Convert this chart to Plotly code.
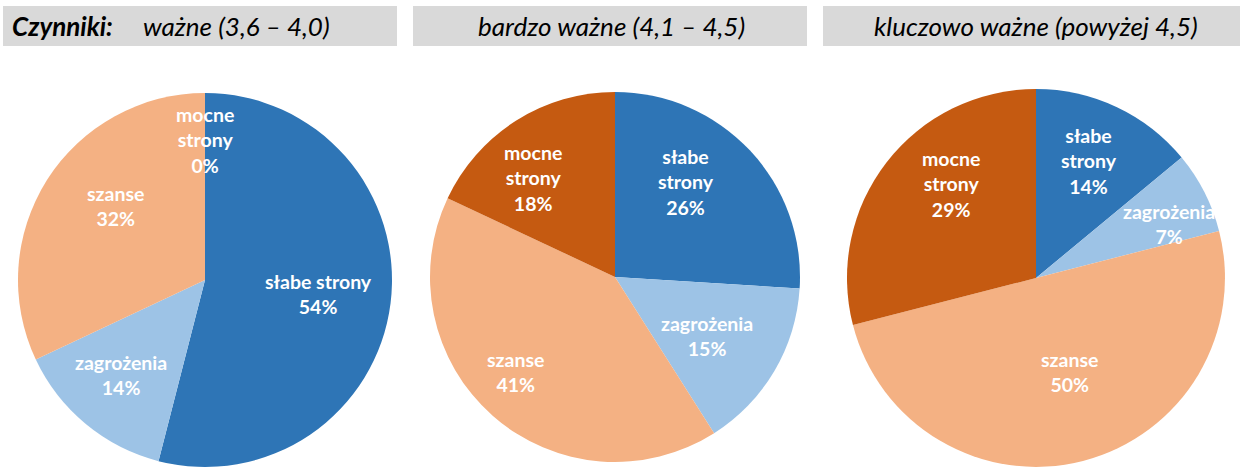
import math
import plotly.graph_objects as go

W, H = 1241, 467

# Factor categories (clockwise from 12 o'clock)
categories = ["słabe strony", "zagrożenia", "szanse", "mocne strony"]
colors = ["#2E75B6", "#9DC3E6", "#F4B183", "#C55A11"]

# Share of each category (%) per importance group
wazne = [54, 14, 32, 0]
bardzo_wazne = [26, 15, 41, 18]
kluczowo_wazne = [14, 7, 50, 29]

group_titles = ["ważne (3,6 – 4,0)", "bardzo ważne (4,1 – 4,5)", "kluczowo ważne (powyżej 4,5)"]

# Pie geometry in pixels: centre x, centre y, radius
pies = [
    (wazne, 205, 280, 187),
    (bardzo_wazne, 615, 277, 185),
    (kluczowo_wazne, 1036, 278, 189),
]
# Label placement: distance (fraction of radius) and angular nudge (deg)
label_r = [
    [0.61, 0.68, 0.62, 0.75],
    [0.64, 0.59, 0.745, 0.695],
    [0.68, 0.76, 0.53, 0.67],
]
label_shift = [
    [0, 2, 7, 0],
    [-10, 2, 5, -7],
    [-1, 5, -5, 10],
]
# Which pies break "słabe strony" over two lines
wrap_weak = [False, True, True]


def slice_label(name, wrap):
    if name == "mocne strony" or (name == "słabe strony" and wrap):
        return name.replace(" ", "<br>")
    return name


fig = go.Figure()
annotations = []
label_font = dict(family="Lato, 'Open Sans', sans-serif", size=19.5, color="white")

for i, (vals, cx, cy, r) in enumerate(pies):
    y0 = max(0.0, (H - cy - r) / H)
    y1 = min(1.0, (H - cy + r) / H)
    fig.add_trace(go.Pie(
        labels=categories,
        values=vals,
        sort=False,
        direction="clockwise",
        rotation=0,
        marker=dict(colors=colors, line=dict(width=0)),
        textinfo="none",
        hoverinfo="label+percent",
        showlegend=False,
        domain=dict(x=[(cx - r) / W, (cx + r) / W], y=[y0, y1]),
    ))
    total = sum(vals)
    cum = 0.0
    for j, v in enumerate(vals):
        mid = (cum + v / 2) / total * 2 * math.pi + math.radians(label_shift[i][j])
        cum += v
        d = label_r[i][j] * r
        px = cx + d * math.sin(mid)
        py = cy - d * math.cos(mid)
        pct = round(v / total * 100)
        annotations.append(dict(
            x=px / W, y=1 - py / H, xref="paper", yref="paper",
            text=f"<b>{slice_label(categories[j], wrap_weak[i])}<br>{pct}%</b>",
            showarrow=False, font=label_font, align="center",
            xanchor="center", yanchor="middle",
        ))

# Header bars
boxes = [(3, 397), (413, 807), (823, 1240)]
shapes = []
for x0, x1 in boxes:
    shapes.append(dict(type="rect", xref="paper", yref="paper",
                       x0=x0 / W, x1=x1 / W, y0=1 - 46 / H, y1=1 - 6 / H,
                       fillcolor="#D9D9D9", line=dict(width=0), layer="below"))

head_font = dict(family="Lato, 'Open Sans', sans-serif", size=26, color="black")
annotations.append(dict(x=10 / W, y=1 - 26 / H, xref="paper", yref="paper",
                        text="<b><i>Czynniki:</i></b>", showarrow=False,
                        font=head_font, xanchor="left", yanchor="middle"))
annotations.append(dict(x=141 / W, y=1 - 26 / H, xref="paper", yref="paper",
                        text=f"<i>{group_titles[0]}</i>", showarrow=False,
                        font=head_font, xanchor="left", yanchor="middle"))
for k, xc in [(1, 611), (2, 1036)]:
    annotations.append(dict(x=xc / W, y=1 - 26 / H, xref="paper", yref="paper",
                            text=f"<i>{group_titles[k]}</i>", showarrow=False,
                            font=head_font, xanchor="center", yanchor="middle"))

fig.update_layout(
    width=W, height=H,
    margin=dict(l=0, r=0, t=0, b=0),
    paper_bgcolor="white", plot_bgcolor="white",
    shapes=shapes, annotations=annotations,
)

fig.write_html("out.html")
